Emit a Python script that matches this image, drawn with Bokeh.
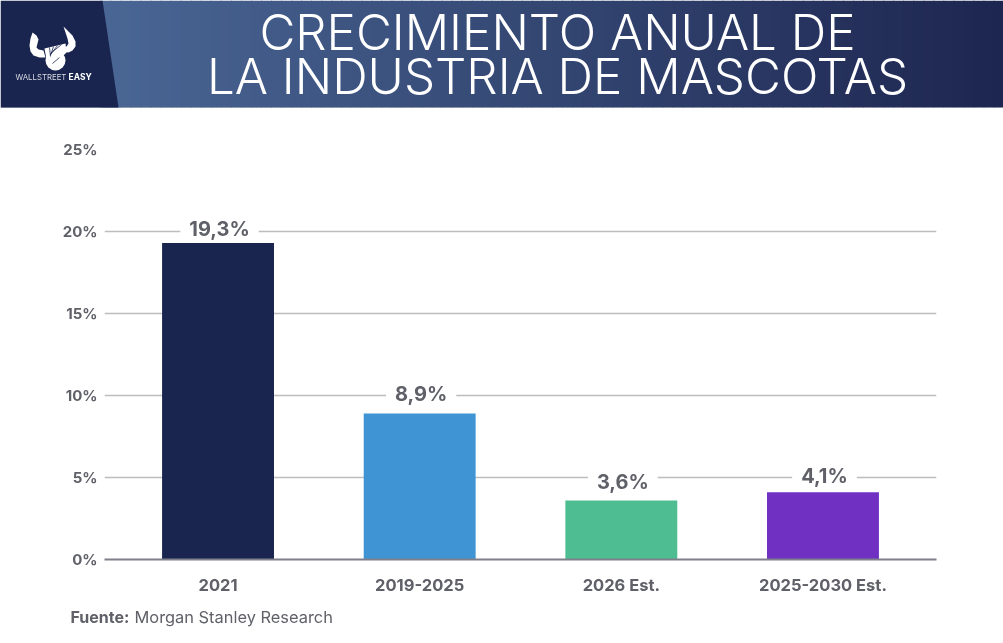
from bokeh.plotting import figure
from bokeh.core.properties import value
from bokeh.layouts import column
from bokeh.models import (ColumnDataSource, FactorRange, Range1d, LabelSet, FixedTicker, CustomJSTickFormatter)
from bokeh.embed import file_html
from bokeh.resources import INLINE

categories = ["2021", "2019-2025", "2026 Est.", "2025-2030 Est."]
growth = [19.3, 8.9, 3.6, 4.1]
value_labels = ["19,3%", "8,9%", "3,6%", "4,1%"]
bar_colors = ["#19254f", "#3f95d3", "#4fbd92", "#7030c2"]
y_ticks = [0, 5, 10, 15, 20, 25]
label_lifts = [14, 20, 18, 16]
title_lines = ["CRECIMIENTO ANUAL DE", "LA INDUSTRIA DE MASCOTAS"]

W, H = 1003, 643
HEAD_H, FOOT_H = 108, 40
FONT = "Inter"
GREY = "#5f6068"
NAVY = "#19254f"


def blank(height, y0, y1):
    f = figure(width=W, height=height, output_backend="svg", toolbar_location=None,
               x_range=Range1d(0, W), y_range=Range1d(y1, y0), x_axis_type=None, y_axis_type=None,
               min_border=0, min_border_left=0, min_border_right=0, min_border_top=0, min_border_bottom=0,
               frame_align=False)
    f.grid.visible = False
    f.outline_line_color = None
    f.background_fill_color = "white"
    f.border_fill_color = "white"
    return f


# header ------------------------------------------------------------------
head = blank(HEAD_H, 0, HEAD_H)
steps = 90
c0, c1 = (0x4a, 0x66, 0x94), (0x1d, 0x26, 0x50)
lefts = [100 + (W - 100) * i / steps for i in range(steps)]
rights = [a + (W - 100) / steps + 1 for a in lefts]
cols = ["#%02x%02x%02x" % tuple(round(a + (b - a) * i / (steps - 1)) for a, b in zip(c0, c1)) for i in range(steps)]
head.quad(left=lefts, right=rights, top=0, bottom=107, color=cols, line_color=None)
head.quad(left=0, right=W, top=107, bottom=108, color="#7f86a0", line_color=None)
head.patch([0, 102, 118, 0], [0, 0, 107, 107], color=NAVY, line_color=None)
# logo: two horns, a fist of four fingers, and the ball of the hand
head.patch([32, 36, 38, 37, 36, 38, 43, 45, 39, 33, 30, 29, 30],
           [32, 35, 39, 43, 47, 49, 50, 57, 57, 55, 51, 45, 38], color="white", line_color=None)
head.patch([63, 67, 72, 75, 75, 72, 68, 60, 61, 66, 68, 67, 65],
           [26, 30, 35, 41, 46, 50, 52, 51, 47, 46, 43, 38, 32], color="white", line_color=None)
head.patch([44, 65, 66, 61, 46], [48, 43, 52, 57, 59], color="white", line_color=None)
head.scatter([55], [60], size=20, color="white", line_color=None)
head.segment([49, 53, 57, 61], [47, 46, 45, 44], [50, 50, 50, 50], [56, 55, 54, 53], color=NAVY, line_width=0.8)
head.segment([59], [57], [52], [63], color=NAVY, line_width=0.8)
head.text([15], [76], text=["WALLSTREET"], text_font=value(FONT), text_font_size="7.8px",
          text_color="#d8dae2", text_baseline="middle")
head.text([68], [76], text=["EASY"], text_font=value(FONT), text_font_style="bold", text_font_size="8.5px",
          text_color="#ffffff", text_baseline="middle")
head.text([557, 557], [31, 75.5], text=title_lines, text_font=value("'Inter Light', Inter"), text_font_size="49.3px",
          text_color="white", text_align="center", text_baseline="middle")

# chart -------------------------------------------------------------------
src = ColumnDataSource(dict(cat=categories, val=growth, txt=value_labels, col=bar_colors, lift=label_lifts))

p = figure(width=W, height=H - HEAD_H - FOOT_H, output_backend="svg", toolbar_location=None,
           x_range=FactorRange(*categories, range_padding=0.0315, range_padding_units="percent",
                               factor_padding=0),
           y_range=Range1d(0, 25), frame_align=False,
           min_border_left=104, min_border_right=67, min_border_top=41, min_border_bottom=44)
p.outline_line_color = None
p.background_fill_color = "white"
p.border_fill_color = "white"

p.vbar(x="cat", top="val", width=0.555, color="col", source=src, line_color=None)

p.xgrid.grid_line_color = None
p.ygrid.grid_line_color = "#bdbdbd"
p.ygrid.grid_line_width = 1.5
p.ygrid.level = "underlay"

p.yaxis.ticker = FixedTicker(ticks=y_ticks)
p.yaxis.formatter = CustomJSTickFormatter(code="return tick + '%';")
p.yaxis.axis_line_color = None
p.yaxis.major_tick_line_color = None
p.yaxis.minor_tick_line_color = None
p.yaxis.major_label_standoff = 1
p.yaxis.major_label_text_font = FONT
p.yaxis.major_label_text_font_style = "bold"
p.yaxis.major_label_text_font_size = "15px"
p.yaxis.major_label_text_color = GREY

p.xaxis.axis_line_color = "#7f808c"
p.xaxis.axis_line_width = 2
p.xaxis.major_tick_line_color = None
p.xaxis.minor_tick_line_color = None
p.xaxis.major_label_standoff = 9
p.xaxis.major_label_text_font = FONT
p.xaxis.major_label_text_font_style = "bold"
p.xaxis.major_label_text_font_size = "16.5px"
p.xaxis.major_label_text_color = GREY

p.add_layout(LabelSet(x="cat", y="val", text="txt", source=src, y_offset="lift", x_offset=1.5,
                      text_align="center", text_baseline="middle", text_font=value(FONT),
                      text_font_style="bold", text_font_size="20px", text_color=GREY,
                      background_fill_color="white", border_line_color="white", border_line_width=18,
                      border_line_join="miter", level="underlay"))

# footer ------------------------------------------------------------------
foot = blank(FOOT_H, H - FOOT_H, H)
foot.text([70], [616], text=["Fuente:"], text_font=value(FONT), text_font_style="bold", text_font_size="16px",
          text_color=GREY, text_baseline="middle")
foot.text([134], [616], text=["Morgan Stanley Research"], text_font=value(FONT), text_font_size="16.4px",
          text_color=GREY, text_baseline="middle")

page = column(head, p, foot, spacing=0, styles={"position": "fixed", "left": "0", "top": "0"})
open("out.html", "w").write(file_html(page, INLINE))
